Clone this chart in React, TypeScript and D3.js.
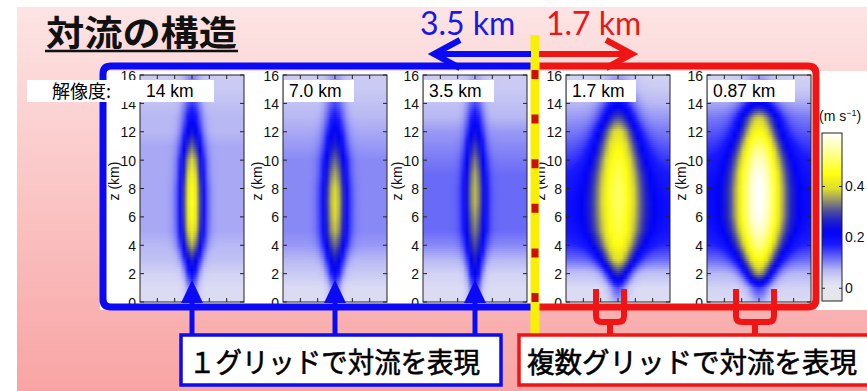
import * as d3 from "d3";

const W = 867;
const H = 391;

const levels = [0, 1, 2, 3, 4, 5, 6, 7, 8, 9, 10, 11, 12, 13, 14, 15, 16];

const resolutions = ["14 km", "7.0 km", "3.5 km", "1.7 km", "0.87 km"];

// vertical velocity at the updraft centre (m s-1)
const core14 = [0.08, 0.12, 0.2, 0.27, 0.36, 0.42, 0.45, 0.46, 0.45, 0.43, 0.39, 0.32, 0.25, 0.2, 0.15, 0.12, 0.1];
const core7 = [0.08, 0.12, 0.2, 0.26, 0.32, 0.37, 0.39, 0.4, 0.39, 0.36, 0.32, 0.27, 0.23, 0.18, 0.14, 0.11, 0.09];
const core35 = [0.1, 0.16, 0.22, 0.26, 0.3, 0.33, 0.35, 0.37, 0.37, 0.36, 0.33, 0.29, 0.24, 0.19, 0.14, 0.1, 0.08];
const core17 = [0.08, 0.14, 0.28, 0.4, 0.45, 0.48, 0.49, 0.5, 0.5, 0.49, 0.47, 0.44, 0.4, 0.3, 0.2, 0.12, 0.08];
const core087 = [0.08, 0.15, 0.35, 0.45, 0.52, 0.57, 0.6, 0.61, 0.61, 0.6, 0.57, 0.52, 0.45, 0.38, 0.22, 0.12, 0.08];

// value away from the updraft (panel edges)
const env14 = [0.03, 0.03, 0.04, 0.06, 0.07, 0.08, 0.08, 0.08, 0.08, 0.08, 0.08, 0.08, 0.07, 0.07, 0.06, 0.05, 0.05];
const env7 = [0.03, 0.03, 0.05, 0.07, 0.09, 0.1, 0.1, 0.1, 0.1, 0.1, 0.1, 0.09, 0.08, 0.07, 0.06, 0.05, 0.05];
const env35 = [0.03, 0.03, 0.04, 0.07, 0.1, 0.12, 0.12, 0.12, 0.12, 0.12, 0.11, 0.1, 0.09, 0.07, 0.06, 0.05, 0.05];
const env17 = [0.03, 0.03, 0.06, 0.12, 0.16, 0.18, 0.19, 0.19, 0.18, 0.17, 0.15, 0.13, 0.11, 0.09, 0.07, 0.05, 0.04];
const env087 = [0.03, 0.04, 0.07, 0.12, 0.16, 0.18, 0.19, 0.19, 0.19, 0.18, 0.17, 0.15, 0.13, 0.11, 0.08, 0.05, 0.04];

// updraft width (fraction of half the panel width)
const width14 = [0.12, 0.12, 0.14, 0.17, 0.2, 0.21, 0.21, 0.21, 0.21, 0.2, 0.2, 0.19, 0.18, 0.17, 0.17, 0.17, 0.17];
const width7 = [0.12, 0.12, 0.15, 0.18, 0.21, 0.22, 0.22, 0.22, 0.22, 0.21, 0.21, 0.2, 0.19, 0.18, 0.18, 0.18, 0.18];
const width35 = [0.12, 0.12, 0.14, 0.16, 0.18, 0.19, 0.19, 0.19, 0.19, 0.18, 0.18, 0.17, 0.16, 0.16, 0.16, 0.16, 0.16];
const width17 = [0.15, 0.18, 0.24, 0.32, 0.4, 0.45, 0.46, 0.46, 0.46, 0.45, 0.43, 0.4, 0.36, 0.32, 0.3, 0.3, 0.3];
const width087 = [0.18, 0.22, 0.28, 0.36, 0.42, 0.46, 0.48, 0.48, 0.48, 0.47, 0.45, 0.42, 0.38, 0.35, 0.32, 0.3, 0.3];

const colorbarTicks = [0, 0.2, 0.4];

// colormap of the original figure
const cmapDomain = [-0.05, 0.02, 0.07, 0.12, 0.17, 0.22, 0.27, 0.31, 0.35, 0.39, 0.45, 0.53, 0.61];
const cmapColors = ["#e6e6e8", "#e4e4f4", "#b8b8f4", "#6a6af8", "#1a1aff", "#0000f8", "#2424c4", "#585894", "#9c9c62", "#dcdc30", "#ffff10", "#ffff90", "#ffffff"];

const panels = [
  { label: resolutions[0], core: core14, env: env14, width: width14 },
  { label: resolutions[1], core: core7, env: env7, width: width7 },
  { label: resolutions[2], core: core35, env: env35, width: width35 },
  { label: resolutions[3], core: core17, env: env17, width: width17 },
  { label: resolutions[4], core: core087, env: env087, width: width087 },
];

// layout
const panelLeft = [140, 283, 423, 566, 707];
const labelBoxW = [73, 70, 70, 69, 87];
const plotW = 104;
const plotTop = 75;
const plotBottom = 302;
const rowH = 2;
const nStops = 27;

const SANS = "'Liberation Sans', Arial, Helvetica, sans-serif";
const CJK = "'Noto Sans CJK JP', 'Noto Sans CJK SC', sans-serif";
const BLUE = "#0a0af5";
const RED = "#f01414";

export default function App() {
  const y = d3.scaleLinear().domain([0, 16]).range([plotBottom, plotTop]);
  const x = d3.scaleLinear().domain([-3, 3]).range([0, plotW]);
  const cmap = d3
    .scaleLinear<string>()
    .domain(cmapDomain)
    .range(cmapColors)
    .interpolate(d3.interpolateRgb)
    .clamp(true);
  const cbar = d3.scaleLinear().domain([-0.05, 0.61]).range([301, 133]);

  const yTicks = d3.range(0, 17, 2);
  const xTicks = [-2, -1, 0, 1, 2];

  // one horizontal gradient per row of each panel
  const rows = panels.map((p, pi) => {
    const coreAt = d3.scaleLinear().domain(levels).range(p.core);
    const envAt = d3.scaleLinear().domain(levels).range(p.env);
    const widAt = d3.scaleLinear().domain(levels).range(p.width);
    const out: { id: string; y: number; stops: { o: number; c: string }[] }[] = [];
    let i = 0;
    for (let py = plotTop; py < plotBottom; py += rowH) {
      const z = y.invert(Math.min(py + rowH / 2, plotBottom));
      const c = coreAt(z);
      const e = envAt(z);
      const w = widAt(z);
      const stops = d3.range(nStops).map((k) => {
        const o = k / (nStops - 1);
        const xn = -1 + 2 * o;
        const v = e + (c - e) * Math.exp(-((xn / w) ** 2));
        return { o, c: cmap(v) };
      });
      out.push({ id: `hm-${pi}-${i}`, y: py, stops });
      i++;
    }
    return out;
  });

  const cbarStops = d3.range(0, 34).map((k) => {
    const v = -0.05 + (0.66 * k) / 33;
    return { o: k / 33, c: cmap(v) };
  });

  const centers = panelLeft.map((l) => l + plotW / 2);

  return (
    <svg
      width={W}
      height={H}
      style={{ position: "absolute", left: 0, top: 0, background: "#fff" }}
    >
      <defs>
        <linearGradient id="slide" x1="0" y1="0" x2="0" y2="1">
          <stop offset="0" stopColor="#fde4e4" />
          <stop offset="1" stopColor="#f8a4a4" />
        </linearGradient>
        <linearGradient id="cbar" x1="0" y1="1" x2="0" y2="0">
          {cbarStops.map((s, i) => (
            <stop key={i} offset={s.o} stopColor={s.c} />
          ))}
        </linearGradient>
        {rows.flat().map((r) => (
          <linearGradient key={r.id} id={r.id} x1="0" y1="0" x2="1" y2="0">
            {r.stops.map((s, i) => (
              <stop key={i} offset={s.o} stopColor={s.c} />
            ))}
          </linearGradient>
        ))}
        <clipPath id="fig">
          <rect x={100} y={71} width={767} height={239} />
        </clipPath>
      </defs>

      {/* slide background */}
      <rect x={17} y={7} width={W - 17} height={H - 7} fill="url(#slide)" />

      {/* figure */}
      <g clipPath="url(#fig)" fontFamily={SANS}>
        <rect x={100} y={70} width={767} height={240} fill="#fff" />
        {panels.map((p, pi) => (
          <g key={p.label} transform={`translate(${panelLeft[pi]},0)`}>
            {rows[pi].map((r) => (
              <rect
                key={r.id}
                x={0}
                y={r.y}
                width={plotW}
                height={Math.min(rowH + 0.6, plotBottom - r.y)}
                fill={`url(#${r.id})`}
              />
            ))}
            <rect
              x={0}
              y={plotTop}
              width={plotW}
              height={plotBottom - plotTop}
              fill="none"
              stroke="#222"
              strokeWidth={1}
            />
            {yTicks.map((t) => (
              <g key={t}>
                <line x1={0} x2={4} y1={y(t)} y2={y(t)} stroke="#222" />
                <line x1={plotW - 4} x2={plotW} y1={y(t)} y2={y(t)} stroke="#222" />
                <text x={-4} y={y(t) + 5.5} textAnchor="end" fontSize={14} fill="#111">
                  {t}
                </text>
              </g>
            ))}
            {xTicks.map((t) => (
              <g key={t}>
                <line x1={x(t)} x2={x(t)} y1={plotBottom} y2={plotBottom - 4} stroke="#222" />
                <line x1={x(t)} x2={x(t)} y1={plotTop} y2={plotTop + 4} stroke="#222" />
              </g>
            ))}
            <text
              transform={`translate(-21,181) rotate(-90)`}
              textAnchor="middle"
              fontSize={14}
              fill="#111"
            >
              z (km)
            </text>
            <rect x={1} y={80} width={labelBoxW[pi]} height={22} fill="#fff" />
            <text x={6} y={97} fontSize={17.5} fill="#000">
              {p.label}
            </text>
          </g>
        ))}

        {/* colorbar */}
        <rect x={822} y={133} width={20} height={168} fill="url(#cbar)" stroke="#222" strokeWidth={1} />
        {colorbarTicks.map((t) => (
          <g key={t}>
            <line x1={822} x2={825} y1={cbar(t)} y2={cbar(t)} stroke="#222" />
            <line x1={839} x2={842} y1={cbar(t)} y2={cbar(t)} stroke="#222" />
            <text x={845} y={cbar(t) + 5} fontSize={14} fill="#111">
              {t}
            </text>
          </g>
        ))}
        <text x={819} y={121} fontSize={14} fill="#111">
          (m s
          <tspan dy={-5} fontSize={9}>
            −1
          </tspan>
          <tspan dy={5}>)</tspan>
        </text>
      </g>

      {/* frames around the two groups */}
      <path
        d="M535,66 H111 Q103,66 103,74 V299 Q103,307 111,307 H535"
        fill="none"
        stroke={BLUE}
        strokeWidth={7}
      />
      <path
        d="M535,66 H808 Q816,66 816,74 V299 Q816,307 808,307 H535"
        fill="none"
        stroke={RED}
        strokeWidth={7}
      />

      {/* resolution label */}
      <rect x={27} y={80} width={114} height={22} fill="#fff" />
      <text x={52} y={98} fontSize={18} fontFamily={CJK} fill="#000">
        解像度:
      </text>

      {/* blue triangles and arrows */}
      {centers.slice(0, 3).map((c) => (
        <g key={c}>
          <path d={`M${c},280 L${c + 11},303 L${c - 11},303 Z`} fill={BLUE} />
          <line x1={c} x2={c} y1={303} y2={336} stroke={BLUE} strokeWidth={5} />
        </g>
      ))}

      {/* red forks */}
      {[
        [596, 624],
        [736, 774],
      ].map(([a, b]) => {
        const m = (a + b) / 2;
        return (
          <g key={a} fill="none" stroke={RED} strokeWidth={6}>
            <path d={`M${a},289 V316 Q${a},322 ${a + 6},322 H${b - 6} Q${b},322 ${b},316 V289`} />
            <line x1={m} x2={m} y1={322} y2={336} />
          </g>
        );
      })}

      {/* dividing line */}
      <line x1={535} x2={535} y1={35} y2={336} stroke="#f8f000" strokeWidth={9} />
      <line
        x1={535}
        x2={535}
        y1={70}
        y2={303}
        stroke="#cc1010"
        strokeWidth={7}
        strokeDasharray="9 35.6"
      />

      {/* top arrows */}
      <g fill="none" strokeWidth={6} strokeLinejoin="miter">
        <line x1={531} x2={436} y1={54} y2={54} stroke={BLUE} />
        <polyline points="460,40 434,54 460,68" stroke={BLUE} />
        <line x1={539} x2={628} y1={54} y2={54} stroke={RED} />
        <polyline points="606,40 632,54 606,68" stroke={RED} />
      </g>
      <text x={420} y={35} fontSize={32} fontFamily="Lato, sans-serif" fill="#1818e8">
        3.5 km
      </text>
      <text x={546} y={35} fontSize={32} fontFamily="Lato, sans-serif" fill="#e81818">
        1.7 km
      </text>

      {/* bottom captions */}
      <rect x={181} y={335} width={320} height={50} fill="#fff" stroke={BLUE} strokeWidth={3.5} />
      <text
        x={189}
        y={373}
        fontSize={28}
        fontFamily={CJK}
        fill="#000"
        stroke="#000"
        strokeWidth={0.6}
        textLength={291}
        lengthAdjust="spacingAndGlyphs"
      >
        １グリッドで対流を表現
      </text>
      <rect x={519} y={335} width={360} height={50} fill="#fff" stroke={RED} strokeWidth={3.5} />
      <text
        x={527}
        y={373}
        fontSize={28}
        fontFamily={CJK}
        fill="#000"
        stroke="#000"
        strokeWidth={0.6}
        textLength={330}
        lengthAdjust="spacingAndGlyphs"
      >
        複数グリッドで対流を表現
      </text>

      {/* title */}
      <text
        x={46}
        y={46}
        fontSize={35}
        fontWeight="bold"
        fontFamily={CJK}
        fill="#111"
        textLength={191}
        lengthAdjust="spacingAndGlyphs"
      >
        対流の構造
      </text>
      <line x1={45} x2={238} y1={51} y2={51} stroke="#111" strokeWidth={2.5} />
    </svg>
  );
}
